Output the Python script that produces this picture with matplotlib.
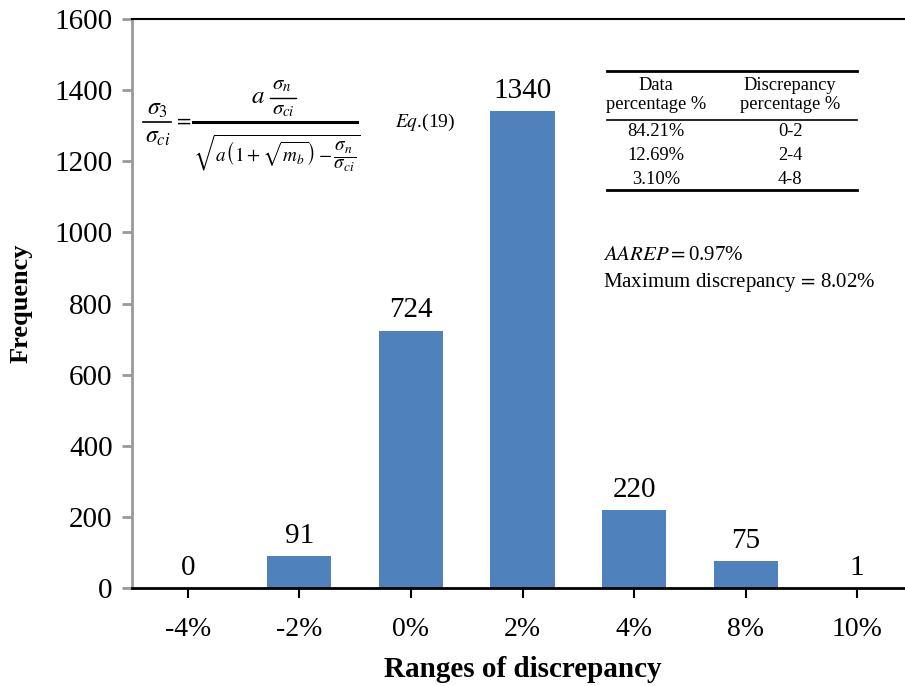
import matplotlib
matplotlib.use("Agg")
import matplotlib.pyplot as plt
from matplotlib.lines import Line2D

categories = ["-4%", "-2%", "0%", "2%", "4%", "8%", "10%"]
frequency = [0, 91, 724, 1340, 220, 75, 1]
yticks = [0, 200, 400, 600, 800, 1000, 1200, 1400, 1600]
table_header = [("Data\npercentage %", "Discrepancy\npercentage %")]
table_rows = [("84.21%", "0-2"), ("12.69%", "2-4"), ("3.10%", "4-8")]
aarep_text = r"$\mathit{AAREP}=$0.97%"
maxdisc_text = r"Maximum discrepancy$\,=\,$8.02%"

plt.rcParams["font.family"] = ["Liberation Serif", "DejaVu Serif"]
plt.rcParams["mathtext.fontset"] = "stix"

W, H = 905, 686
fig = plt.figure(figsize=(W / 100, H / 100), dpi=100)

def fx(x):
    return x / W

def fy(y):
    return 1 - y / H

def hline(x0, x1, y, lw):
    fig.add_artist(Line2D([fx(x0), fx(x1)], [fy(y), fy(y)], color="black",
                          lw=lw, transform=fig.transFigure))

def ftext(x, y, s, size, **kw):
    fig.text(fx(x), fy(y), s, fontsize=size, ha=kw.pop("ha", "center"),
             va=kw.pop("va", "center"), **kw)

ax = fig.add_axes([fx(132), fy(588), fx(913) - fx(132), fy(19) - fy(588)])
x = list(range(len(categories)))
ax.bar(x, frequency, width=0.575, color="#4F81BD", zorder=2)
ax.set_xlim(-0.5, len(categories) - 0.5)
ax.set_ylim(0, 1600)
ax.set_yticks(yticks)
ax.set_xticks(x)
ax.set_xticklabels(categories)

for xi, v in zip(x, frequency):
    ax.text(xi, v + 20, str(v), ha="center", va="bottom", fontsize=21)

ax.spines["right"].set_visible(False)
ax.spines["left"].set_color("#999999")
ax.spines["left"].set_linewidth(2)
ax.spines["top"].set_color("black")
ax.spines["top"].set_linewidth(1.5)
ax.spines["bottom"].set_color("black")
ax.spines["bottom"].set_linewidth(2)
ax.tick_params(axis="y", direction="out", length=7, width=2, color="#999999",
               labelsize=21, pad=7)
ax.tick_params(axis="x", direction="out", length=7, width=1.5, color="black",
               labelsize=20, pad=14)

ax.set_ylabel("Frequency", fontsize=19, fontweight="bold", labelpad=16)
ax.set_xlabel("Ranges of discrepancy", fontsize=21, fontweight="bold", labelpad=10)

# Equation, built from pieces
ftext(157, 109, r"$\sigma_3$", 17)
hline(143, 171, 122, 1.2)
ftext(158, 137, r"$\sigma_{ci}$", 17)
ftext(182, 121, r"$=$", 15)
hline(193, 357, 122, 2.2)
ftext(258, 97, r"$a$", 18)
ftext(282, 85, r"$\sigma_n$", 15)
hline(270, 296, 98, 1.0)
ftext(283, 110, r"$\sigma_{ci}$", 15)
ftext(277, 153, r"$\sqrt{a\left(1+\sqrt{m_b}\right)-\dfrac{\sigma_n}{\sigma_{ci}}}$", 13.8)
ftext(395, 122, r"$\mathit{Eq}$.(19)", 14, ha="left")

# Table
tl, tr = 607, 857
for yy, lw in [(71, 2), (120, 1.2), (190, 2)]:
    hline(tl, tr, yy, lw)
c1, c2 = 656, 790
h1, h2 = table_header[0]
ftext(c1, 95, h1, 13.3, linespacing=1.2)
ftext(c2, 95, h2, 13.3, linespacing=1.2)
for i, (a, b) in enumerate(table_rows):
    yy = 132 + i * 24
    ftext(c1, yy, a, 13.3)
    ftext(c2, yy, b, 13.3)

ftext(603, 255, aarep_text, 15, ha="left")
ftext(603, 283, maxdisc_text, 15, ha="left")

fig.savefig("out.png", dpi=100)
